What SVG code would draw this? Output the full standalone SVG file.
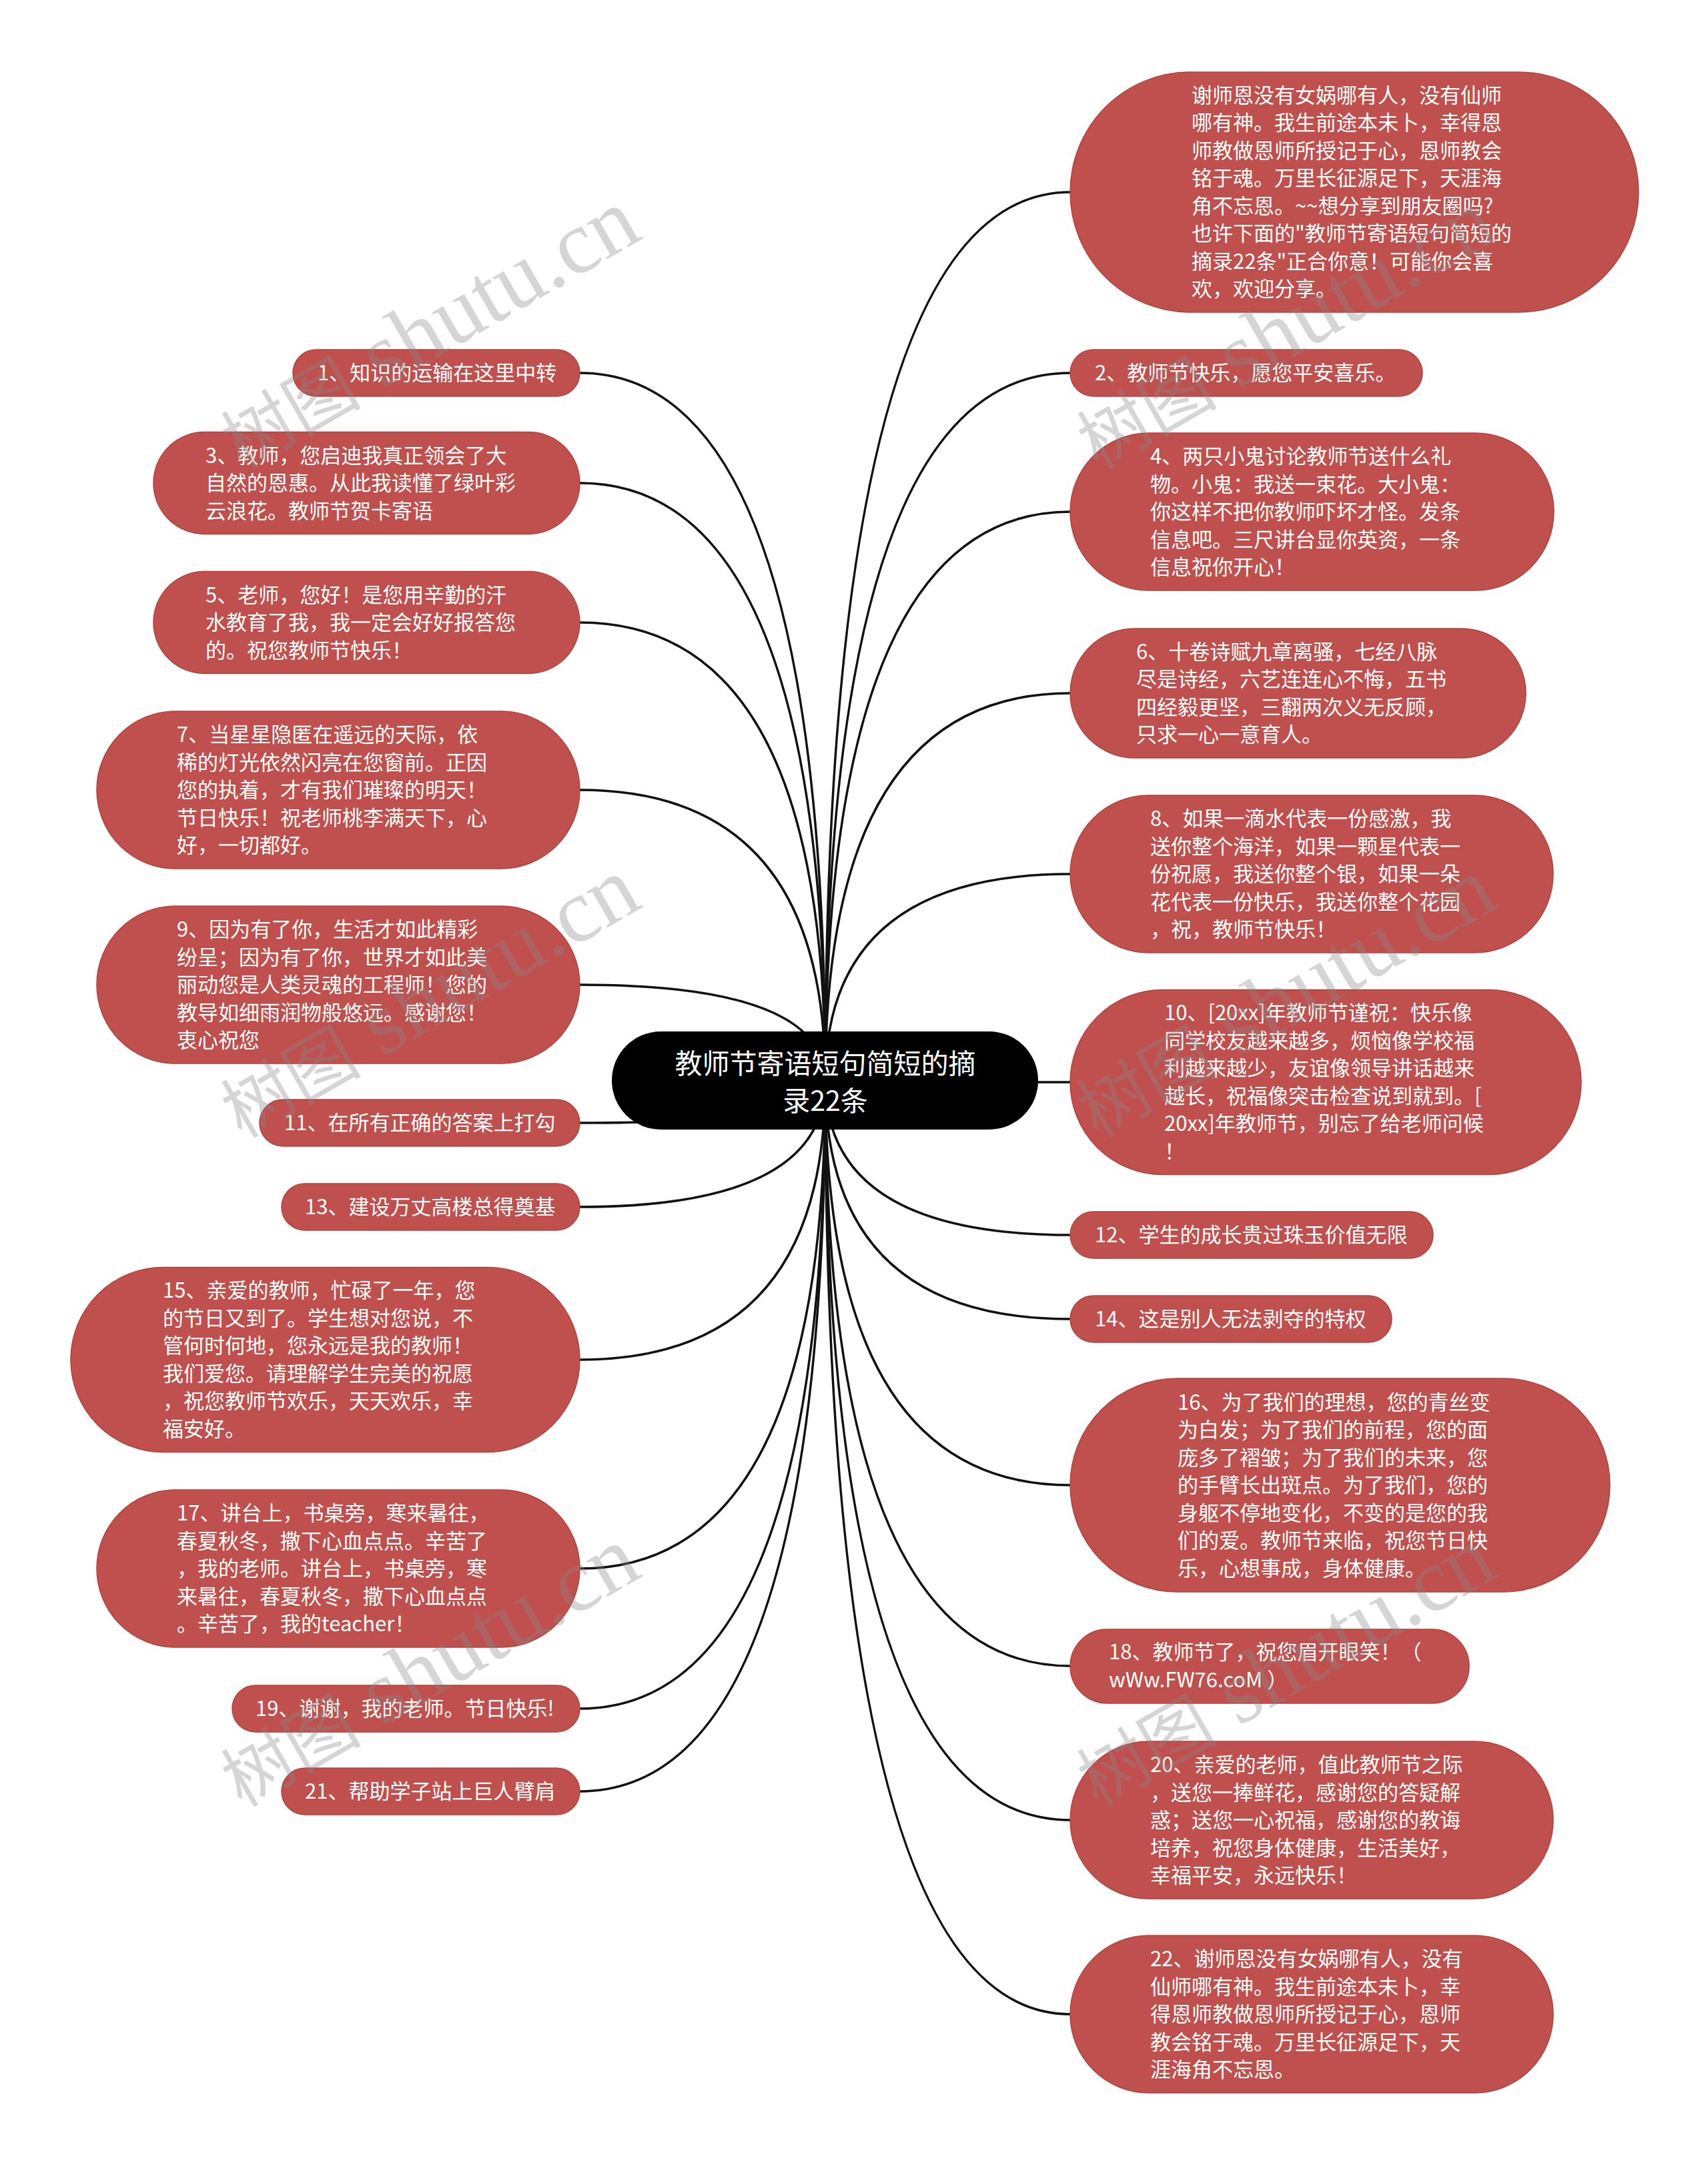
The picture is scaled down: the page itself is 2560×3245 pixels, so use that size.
<svg xmlns="http://www.w3.org/2000/svg" width="2560" height="3245" viewBox="0 0 2560 3245">
<style>
.bg{fill:#ffffff}
.edge{fill:none;stroke:#111111;stroke-width:3.5}
.node rect{fill:#C0504D;stroke:#b0423f;stroke-width:1.5}
.node text{fill:#ffffff;font-family:"Noto Sans CJK SC","Microsoft YaHei",sans-serif;font-size:31px}
.root rect{fill:#000000}
.root text{fill:#ffffff;font-family:"Noto Sans CJK SC","Microsoft YaHei",sans-serif;font-size:41px;text-anchor:middle}
.wm{fill:#888888;opacity:0.35;font-family:"Liberation Serif","Noto Sans CJK SC",serif}
</style>
<rect class="bg" x="0" y="0" width="2560" height="3245"/>
<g id="connectors">
<path class="edge" d="M1237,1620 Q1237,288 1604,288"/>
<path class="edge" d="M1237,1620 Q1237,559 1604,559"/>
<path class="edge" d="M1237,1620 Q1237,767 1604,767"/>
<path class="edge" d="M1237,1620 Q1237,1039 1604,1039"/>
<path class="edge" d="M1237,1620 Q1237,1310 1604,1310"/>
<path class="edge" d="M1237,1620 Q1237,1622 1604,1622"/>
<path class="edge" d="M1237,1620 Q1237,1851 1604,1851"/>
<path class="edge" d="M1237,1620 Q1237,1977 1604,1977"/>
<path class="edge" d="M1237,1620 Q1237,2226 1604,2226"/>
<path class="edge" d="M1237,1620 Q1237,2497 1604,2497"/>
<path class="edge" d="M1237,1620 Q1237,2728 1604,2728"/>
<path class="edge" d="M1237,1620 Q1237,3019 1604,3019"/>
<path class="edge" d="M1237,1620 Q1237,559 869,559"/>
<path class="edge" d="M1237,1620 Q1237,724 869,724"/>
<path class="edge" d="M1237,1620 Q1237,933 869,933"/>
<path class="edge" d="M1237,1620 Q1237,1184 869,1184"/>
<path class="edge" d="M1237,1620 Q1237,1476 869,1476"/>
<path class="edge" d="M1237,1620 Q1237,1683 869,1683"/>
<path class="edge" d="M1237,1620 Q1237,1809 869,1809"/>
<path class="edge" d="M1237,1620 Q1237,2038 869,2038"/>
<path class="edge" d="M1237,1620 Q1237,2351 869,2351"/>
<path class="edge" d="M1237,1620 Q1237,2561 869,2561"/>
<path class="edge" d="M1237,1620 Q1237,2685 869,2685"/>
</g>
<g id="root" class="root">
<rect x="917" y="1546" width="639" height="147" rx="73.5" ry="73.5"/>
<text x="1237" y="1609">教师节寄语短句简短的摘</text>
<text x="1237" y="1665">录22条</text>
</g>
<g id="n-intro" class="node">
<rect x="1604" y="108" width="852" height="360" rx="180" ry="180"/>
<text y="153.75"><tspan x="1786">谢师恩没有女娲哪有人，没有仙师</tspan><tspan x="1786" dy="41.5">哪有神。我生前途本未卜，幸得恩</tspan><tspan x="1786" dy="41.5">师教做恩师所授记于心，恩师教会</tspan><tspan x="1786" dy="41.5">铭于魂。万里长征源足下，天涯海</tspan><tspan x="1786" dy="41.5">角不忘恩。~~想分享到朋友圈吗?</tspan><tspan x="1786" dy="41.5">也许下面的"教师节寄语短句简短的</tspan><tspan x="1786" dy="41.5">摘录22条"正合你意！可能你会喜</tspan><tspan x="1786" dy="41.5">欢，欢迎分享。</tspan></text>
</g>
<g id="n-2" class="node">
<rect x="1604" y="524" width="528" height="70" rx="35" ry="35"/>
<text x="1641" y="570">2、教师节快乐，愿您平安喜乐。</text>
</g>
<g id="n-4" class="node">
<rect x="1604" y="649" width="725" height="236" rx="118" ry="118"/>
<text y="695"><tspan x="1724">4、两只小鬼讨论教师节送什么礼</tspan><tspan x="1724" dy="41.5">物。小鬼：我送一束花。大小鬼：</tspan><tspan x="1724" dy="41.5">你这样不把你教师吓坏才怪。发条</tspan><tspan x="1724" dy="41.5">信息吧。三尺讲台显你英资，一条</tspan><tspan x="1724" dy="41.5">信息祝你开心！</tspan></text>
</g>
<g id="n-6" class="node">
<rect x="1604" y="942" width="683" height="194" rx="97" ry="97"/>
<text y="987.75"><tspan x="1703">6、十卷诗赋九章离骚，七经八脉</tspan><tspan x="1703" dy="41.5">尽是诗经，六艺连连心不悔，五书</tspan><tspan x="1703" dy="41.5">四经毅更坚，三翻两次义无反顾，</tspan><tspan x="1703" dy="41.5">只求一心一意育人。</tspan></text>
</g>
<g id="n-8" class="node">
<rect x="1604" y="1192" width="724" height="236" rx="118" ry="118"/>
<text y="1238"><tspan x="1724">8、如果一滴水代表一份感激，我</tspan><tspan x="1724" dy="41.5">送你整个海洋，如果一颗星代表一</tspan><tspan x="1724" dy="41.5">份祝愿，我送你整个银，如果一朵</tspan><tspan x="1724" dy="41.5">花代表一份快乐，我送你整个花园</tspan><tspan x="1724" dy="41.5">，祝，教师节快乐！</tspan></text>
</g>
<g id="n-10" class="node">
<rect x="1604" y="1483.5" width="766" height="277" rx="138.5" ry="138.5"/>
<text y="1529.25"><tspan x="1745">10、[20xx]年教师节谨祝：快乐像</tspan><tspan x="1745" dy="41.5">同学校友越来越多，烦恼像学校福</tspan><tspan x="1745" dy="41.5">利越来越少，友谊像领导讲话越来</tspan><tspan x="1745" dy="41.5">越长，祝福像突击检查说到就到。[</tspan><tspan x="1745" dy="41.5">20xx]年教师节，别忘了给老师问候</tspan><tspan x="1745" dy="41.5">！</tspan></text>
</g>
<g id="n-12" class="node">
<rect x="1604" y="1816" width="544" height="70" rx="35" ry="35"/>
<text x="1641" y="1862">12、学生的成长贵过珠玉价值无限</text>
</g>
<g id="n-14" class="node">
<rect x="1604" y="1942" width="482" height="70" rx="35" ry="35"/>
<text x="1641" y="1988">14、这是别人无法剥夺的特权</text>
</g>
<g id="n-16" class="node">
<rect x="1604" y="2066" width="809" height="320" rx="160" ry="160"/>
<text y="2112.5"><tspan x="1765">16、为了我们的理想，您的青丝变</tspan><tspan x="1765" dy="41.5">为白发；为了我们的前程，您的面</tspan><tspan x="1765" dy="41.5">庞多了褶皱；为了我们的未来，您</tspan><tspan x="1765" dy="41.5">的手臂长出斑点。为了我们，您的</tspan><tspan x="1765" dy="41.5">身躯不停地变化，不变的是您的我</tspan><tspan x="1765" dy="41.5">们的爱。教师节来临，祝您节日快</tspan><tspan x="1765" dy="41.5">乐，心想事成，身体健康。</tspan></text>
</g>
<g id="n-18" class="node">
<rect x="1604" y="2442" width="598" height="111" rx="55.5" ry="55.5"/>
<text y="2487.25"><tspan x="1662">18、教师节了，祝您眉开眼笑！（</tspan><tspan x="1662" dy="41.5">wWw.FW76.coM ）</tspan></text>
</g>
<g id="n-20" class="node">
<rect x="1604" y="2610" width="724" height="236" rx="118" ry="118"/>
<text y="2656"><tspan x="1724">20、亲爱的老师，值此教师节之际</tspan><tspan x="1724" dy="41.5">，送您一捧鲜花，感谢您的答疑解</tspan><tspan x="1724" dy="41.5">惑；送您一心祝福，感谢您的教诲</tspan><tspan x="1724" dy="41.5">培养，祝您身体健康，生活美好，</tspan><tspan x="1724" dy="41.5">幸福平安，永远快乐！</tspan></text>
</g>
<g id="n-22" class="node">
<rect x="1604" y="2901" width="724" height="236" rx="118" ry="118"/>
<text y="2947"><tspan x="1724">22、谢师恩没有女娲哪有人，没有</tspan><tspan x="1724" dy="41.5">仙师哪有神。我生前途本未卜，幸</tspan><tspan x="1724" dy="41.5">得恩师教做恩师所授记于心，恩师</tspan><tspan x="1724" dy="41.5">教会铭于魂。万里长征源足下，天</tspan><tspan x="1724" dy="41.5">涯海角不忘恩。</tspan></text>
</g>
<g id="n-1" class="node">
<rect x="439" y="524" width="430" height="70" rx="35" ry="35"/>
<text x="476" y="570">1、知识的运输在这里中转</text>
</g>
<g id="n-3" class="node">
<rect x="230" y="647.5" width="639" height="153" rx="76.5" ry="76.5"/>
<text y="693.5"><tspan x="308">3、教师，您启迪我真正领会了大</tspan><tspan x="308" dy="41.5">自然的恩惠。从此我读懂了绿叶彩</tspan><tspan x="308" dy="41.5">云浪花。教师节贺卡寄语</tspan></text>
</g>
<g id="n-5" class="node">
<rect x="230" y="856.5" width="639" height="153" rx="76.5" ry="76.5"/>
<text y="902.5"><tspan x="308">5、老师，您好！是您用辛勤的汗</tspan><tspan x="308" dy="41.5">水教育了我，我一定会好好报答您</tspan><tspan x="308" dy="41.5">的。祝您教师节快乐！</tspan></text>
</g>
<g id="n-7" class="node">
<rect x="145" y="1066" width="724" height="236" rx="118" ry="118"/>
<text y="1112"><tspan x="265">7、当星星隐匿在遥远的天际，依</tspan><tspan x="265" dy="41.5">稀的灯光依然闪亮在您窗前。正因</tspan><tspan x="265" dy="41.5">您的执着，才有我们璀璨的明天！</tspan><tspan x="265" dy="41.5">节日快乐！祝老师桃李满天下，心</tspan><tspan x="265" dy="41.5">好，一切都好。</tspan></text>
</g>
<g id="n-9" class="node">
<rect x="145" y="1358" width="724" height="236" rx="118" ry="118"/>
<text y="1404"><tspan x="265">9、因为有了你，生活才如此精彩</tspan><tspan x="265" dy="41.5">纷呈；因为有了你，世界才如此美</tspan><tspan x="265" dy="41.5">丽动您是人类灵魂的工程师！您的</tspan><tspan x="265" dy="41.5">教导如细雨润物般悠远。感谢您！</tspan><tspan x="265" dy="41.5">衷心祝您</tspan></text>
</g>
<g id="n-11" class="node">
<rect x="389" y="1648" width="480" height="70" rx="35" ry="35"/>
<text x="426" y="1694">11、在所有正确的答案上打勾</text>
</g>
<g id="n-13" class="node">
<rect x="422" y="1774" width="447" height="70" rx="35" ry="35"/>
<text x="457" y="1820">13、建设万丈高楼总得奠基</text>
</g>
<g id="n-15" class="node">
<rect x="106" y="1899.5" width="763" height="277" rx="138.5" ry="138.5"/>
<text y="1945.25"><tspan x="244">15、亲爱的教师，忙碌了一年，您</tspan><tspan x="244" dy="41.5">的节日又到了。学生想对您说，不</tspan><tspan x="244" dy="41.5">管何时何地，您永远是我的教师！</tspan><tspan x="244" dy="41.5">我们爱您。请理解学生完美的祝愿</tspan><tspan x="244" dy="41.5">，祝您教师节欢乐，天天欢乐，幸</tspan><tspan x="244" dy="41.5">福安好。</tspan></text>
</g>
<g id="n-17" class="node">
<rect x="145" y="2233" width="724" height="236" rx="118" ry="118"/>
<text y="2279"><tspan x="265">17、讲台上，书桌旁，寒来暑往，</tspan><tspan x="265" dy="41.5">春夏秋冬，撒下心血点点。辛苦了</tspan><tspan x="265" dy="41.5">，我的老师。讲台上，书桌旁，寒</tspan><tspan x="265" dy="41.5">来暑往，春夏秋冬，撒下心血点点</tspan><tspan x="265" dy="41.5">。辛苦了，我的teacher！</tspan></text>
</g>
<g id="n-19" class="node">
<rect x="348" y="2526" width="521" height="70" rx="35" ry="35"/>
<text x="383" y="2572">19、谢谢，我的老师。节日快乐!</text>
</g>
<g id="n-21" class="node">
<rect x="422" y="2650" width="447" height="70" rx="35" ry="35"/>
<text x="457" y="2696">21、帮助学子站上巨人臂肩</text>
</g>
<g id="watermarks">
<text class="wm" transform="translate(362,705) rotate(-30)"><tspan font-size="105">树图</tspan><tspan font-size="135"> shutu.cn</tspan></text>
<text class="wm" transform="translate(1645,705) rotate(-30)"><tspan font-size="105">树图</tspan><tspan font-size="135"> shutu.cn</tspan></text>
<text class="wm" transform="translate(362,1707) rotate(-30)"><tspan font-size="105">树图</tspan><tspan font-size="135"> shutu.cn</tspan></text>
<text class="wm" transform="translate(1645,1707) rotate(-30)"><tspan font-size="105">树图</tspan><tspan font-size="135"> shutu.cn</tspan></text>
<text class="wm" transform="translate(362,2710) rotate(-30)"><tspan font-size="105">树图</tspan><tspan font-size="135"> shutu.cn</tspan></text>
<text class="wm" transform="translate(1645,2710) rotate(-30)"><tspan font-size="105">树图</tspan><tspan font-size="135"> shutu.cn</tspan></text>
</g>
</svg>
